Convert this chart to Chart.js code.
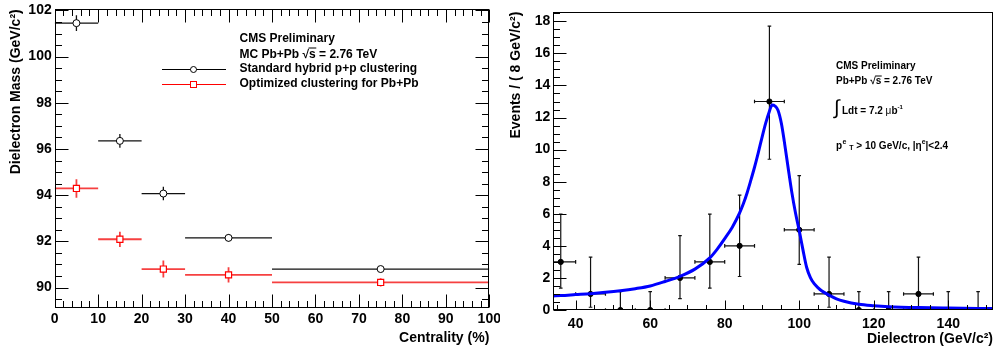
<!DOCTYPE html>
<html><head><meta charset="utf-8">
<script src="https://cdn.jsdelivr.net/npm/chart.js@4.4.1/dist/chart.umd.min.js"></script>
<style>
html,body{margin:0;padding:0;background:#fff;}
#wrap{position:relative;width:994px;height:354px;overflow:hidden;background:#fff;}
#c1{position:absolute;left:0;top:0;}
#c2{position:absolute;left:500px;top:0;}
</style></head><body>
<div id="wrap"><canvas id="c1" width="500" height="354"></canvas><canvas id="c2" width="494" height="354"></canvas></div>
<script>
// ---------- Left panel data ----------
const centBinLow  = [0, 10, 20, 30, 50];
const centBinHigh = [10, 20, 30, 50, 100];
const centCenter  = [5, 15, 25, 40, 75];
const massStd     = [101.45, 96.35, 94.07, 92.15, 90.80];
const massStdErr  = [0.34, 0.30, 0.29, 0.17, 0.10];
const massOpt     = [94.29, 92.09, 90.80, 90.55, 90.22];
const massOptErr  = [0.40, 0.33, 0.37, 0.33, 0.18];
const leftXTicks  = [0, 10, 20, 30, 40, 50, 60, 70, 80, 90, 100];
const leftYTicks  = [90, 92, 94, 96, 98, 100, 102];

// ---------- Right panel data ----------
const binCenter = [36, 44, 52, 60, 68, 76, 84, 92, 100, 108, 116, 124, 132, 140, 148];
const binHalf   = [4, 4, 4, 4, 4, 4, 4, 4, 4, 4, 4, 4, 4, 4, 4];
const events    = [3, 1, 0, 0, 2, 3, 4, 13, 5, 1, 0, 0, 1, 0, 0];
const evErrLow  = [1.63, 0.83, 0, 0, 1.29, 1.63, 1.91, 3.60, 2.16, 0.83, 0, 0, 0.83, 0, 0];
const evErrHigh = [2.98, 2.30, 1.15, 1.15, 2.64, 2.98, 3.16, 4.70, 3.38, 2.30, 1.15, 1.15, 2.30, 1.15, 1.15];
const fitX = [34, 36, 40, 44, 48, 52, 56, 60, 64, 68, 72, 76, 78, 80, 82, 83, 84, 85, 86, 87, 88, 89, 90, 91, 92, 92.7, 93.5, 94.3, 95.2, 96, 97, 98, 99, 100, 101, 102, 103, 104, 105, 106, 108, 110, 112, 116, 120, 124, 132, 140, 152];
const fitY = [0.88, 0.90, 0.96, 1.02, 1.10, 1.20, 1.33, 1.50, 1.78, 2.10, 2.55, 3.25, 3.80, 4.45, 5.15, 5.58, 6.05, 6.62, 7.30, 8.08, 8.90, 9.80, 10.75, 11.65, 12.40, 12.78, 12.72, 12.45, 11.64, 10.50, 8.90, 7.35, 6.05, 4.95, 3.75, 2.65, 2.02, 1.64, 1.40, 1.20, 0.93, 0.70, 0.55, 0.36, 0.27, 0.21, 0.15, 0.12, 0.09];
const rightXTicks = [40, 60, 80, 100, 120, 140];
const rightYTicks = [0, 2, 4, 6, 8, 10, 12, 14, 16, 18];

const FONT = "'Liberation Sans', Arial, Helvetica, sans-serif";
const tickFont = {family: FONT, size: 14, weight: 'bold'};
const titleFont = {family: FONT, size: 14, weight: 'bold'};

function noPad(s) { s.paddingLeft = 0; s.paddingRight = 0; s.paddingTop = 0; s.paddingBottom = 0; }

function minorVals(min, max, step, majors) {
  const out = [];
  for (let v = Math.ceil(min / step - 1e-9) * step; v <= max + 1e-9; v += step) {
    const r = Math.round(v * 1000) / 1000;
    if (!majors.some(m => Math.abs(m - r) < 1e-6)) out.push(r);
  }
  return out;
}

function frameAndTicks(chart, o) {
  const {ctx, chartArea: a, scales: {x, y}} = chart;
  ctx.save();
  ctx.strokeStyle = '#000';
  ctx.lineWidth = 1;
  const L = Math.round(a.left) + 0.5, R = Math.round(a.right) - 0.5;
  const T = Math.round(a.top) + 0.5, B = Math.round(a.bottom) - 0.5;
  ctx.strokeRect(L, T, R - L, B - T);
  ctx.beginPath();
  const xMin = minorVals(x.min, x.max, o.xMinor, o.xTicks);
  const yMin = minorVals(y.min, y.max, o.yMinor, o.yTicks);
  const doX = (vals, len) => vals.forEach(v => {
    const p = Math.round(x.getPixelForValue(v)) + 0.5;
    ctx.moveTo(p, B); ctx.lineTo(p, B - len);
    if (o.topTicks) { ctx.moveTo(p, T); ctx.lineTo(p, T + len); }
  });
  const doY = (vals, len) => vals.forEach(v => {
    const p = Math.round(y.getPixelForValue(v)) + 0.5;
    ctx.moveTo(L, p); ctx.lineTo(L + len, p);
    if (o.rightTicks) { ctx.moveTo(R, p); ctx.lineTo(R - len, p); }
  });
  doX(o.xTicks, o.xMajLen); doX(xMin, o.xMinLen);
  doY(o.yTicks, o.yMajLen); doY(yMin, o.yMinLen);
  ctx.stroke();
  ctx.restore();
}

function drawRuns(ctx, x, y, runs) {
  let cx = x;
  runs.forEach(r => {
    ctx.font = r.font;
    ctx.fillText(r.t, cx, y + (r.dy || 0));
    const w = ctx.measureText(r.t).width;
    if (r.over) {
      ctx.beginPath();
      ctx.lineWidth = 1;
      ctx.moveTo(cx - 0.5, y + r.over);
      ctx.lineTo(cx + w + 0.5, y + r.over);
      ctx.stroke();
    }
    cx += w + (r.gap || 0);
  });
  return cx;
}

function placeArea(chart, target) {
  for (let k = 0; k < 4; k++) {
    const a = chart.chartArea;
    const p = chart.options.layout.padding;
    const dT = target.top - a.top, dR = a.right - target.right, dB = a.bottom - target.bottom, dL = target.left - a.left;
    if (Math.abs(dT) + Math.abs(dR) + Math.abs(dB) + Math.abs(dL) < 0.05) break;
    p.top += dT; p.right += dR; p.bottom += dB; p.left += dL;
    chart.update('none');
  }
}

// ---------- Left chart ----------
const leftPlugin = {
  id: 'leftExtras',
  beforeDatasetsDraw(chart) {
    const {ctx, chartArea: a, scales: {x, y}} = chart;
    ctx.save();
    ctx.beginPath(); ctx.rect(a.left, a.top, a.right - a.left, a.bottom - a.top); ctx.clip();
    const series = [
      {vals: massStd, errs: massStdErr, color: '#111111', w: 1.3},
      {vals: massOpt, errs: massOptErr, color: 'rgba(245,30,30,0.85)', w: 1.8}
    ];
    series.forEach(s => {
      ctx.strokeStyle = s.color; ctx.lineWidth = s.w;
      ctx.beginPath();
      s.vals.forEach((v, i) => {
        const py = y.getPixelForValue(v);
        ctx.moveTo(x.getPixelForValue(centBinLow[i]), py);
        ctx.lineTo(x.getPixelForValue(centBinHigh[i]), py);
        const px = x.getPixelForValue(centCenter[i]);
        ctx.moveTo(px, y.getPixelForValue(v + s.errs[i]));
        ctx.lineTo(px, y.getPixelForValue(v - s.errs[i]));
      });
      ctx.stroke();
    });
    ctx.restore();
  },
  afterDraw(chart) {
    const {ctx} = chart;
    frameAndTicks(chart, {xTicks: leftXTicks, yTicks: leftYTicks, xMinor: 2, yMinor: 0.5,
      xMajLen: 13, xMinLen: 6.5, yMajLen: 13, yMinLen: 6.5, topTicks: true, rightTicks: true});
    ctx.save();
    ctx.fillStyle = '#000'; ctx.strokeStyle = '#000';
    ctx.textBaseline = 'middle'; ctx.textAlign = 'left';
    const f = 'bold 12px ' + FONT;
    drawRuns(ctx, 239.5, 38.5, [{t: 'CMS Preliminary', font: f}]);
    drawRuns(ctx, 239.5, 54.5, [{t: 'MC Pb+Pb ', font: f}, {t: '\u221A', font: f}, {t: 's', font: f, over: -6.5}, {t: ' = 2.76 TeV', font: f}]);
    drawRuns(ctx, 239.5, 68.5, [{t: 'Standard hybrid p+p clustering', font: f}]);
    drawRuns(ctx, 239.5, 83.5, [{t: 'Optimized clustering for Pb+Pb', font: f}]);
    ctx.lineWidth = 1;
    ctx.strokeStyle = '#000';
    ctx.beginPath(); ctx.moveTo(162, 69.5); ctx.lineTo(226, 69.5); ctx.stroke();
    ctx.fillStyle = '#fff';
    ctx.beginPath(); ctx.arc(193.5, 69.5, 3, 0, Math.PI * 2); ctx.fill(); ctx.stroke();
    ctx.strokeStyle = '#ff0000';
    ctx.beginPath(); ctx.moveTo(162, 84.5); ctx.lineTo(226, 84.5); ctx.stroke();
    ctx.fillRect(190.5, 81.5, 6, 6); ctx.strokeRect(190.5, 81.5, 6, 6);
    ctx.restore();
  }
};

const leftChart = new Chart(document.getElementById('c1'), {
  type: 'scatter',
  data: {
    datasets: [
      {label: 'Standard hybrid p+p clustering', data: centCenter.map((c, i) => ({x: c, y: massStd[i]})),
       pointStyle: 'circle', pointRadius: 3.5, borderColor: '#000', backgroundColor: '#fff', borderWidth: 1},
      {label: 'Optimized clustering for Pb+Pb', data: centCenter.map((c, i) => ({x: c, y: massOpt[i]})),
       pointStyle: 'rect', pointRadius: 4.3, borderColor: '#ff0000', backgroundColor: '#fff', borderWidth: 1.2}
    ]
  },
  options: {
    responsive: false, animation: false, events: [],
    layout: {autoPadding: false, padding: {top: 9.3, right: 10.7, left: 0, bottom: 0}},
    plugins: {legend: {display: false}, tooltip: {enabled: false}},
    scales: {
      x: {type: 'linear', min: 0, max: 100,
        afterBuildTicks: s => { s.ticks = leftXTicks.map(v => ({value: v})); },
        afterFit: s => { s.height = 45.7; noPad(s); },
        grid: {display: false, drawTicks: false, tickLength: 0}, border: {display: false},
        ticks: {color: '#000', font: tickFont, padding: 2, maxRotation: 0, autoSkip: false, callback: v => String(v)},
        title: {display: true, text: 'Centrality (%)', align: 'end', color: '#000', font: titleFont, padding: {top: 0, bottom: 7.6}}
      },
      y: {type: 'linear', min: 89.1, max: 102.05,
        afterBuildTicks: s => { s.ticks = leftYTicks.map(v => ({value: v})); },
        afterFit: s => { s.width = 54.7; noPad(s); },
        grid: {display: false, drawTicks: false, tickLength: 0}, border: {display: false},
        ticks: {color: '#000', font: tickFont, padding: 3, autoSkip: false, callback: v => String(v)},
        title: {display: true, text: 'Dielectron Mass (GeV/c\u00B2)', align: 'end', color: '#000', font: titleFont, padding: {top: 7.6, bottom: 0}}
      }
    }
  },
  plugins: [leftPlugin]
});
placeArea(leftChart, {left: 54.7, right: 489.3, top: 9.3, bottom: 308.3});

// ---------- Right chart ----------
const rightPlugin = {
  id: 'rightExtras',
  beforeDatasetsDraw(chart) {
    const {ctx, chartArea: a, scales: {x, y}} = chart;
    ctx.save();
    ctx.beginPath(); ctx.rect(a.left, a.top, a.right - a.left, a.bottom - a.top); ctx.clip();
    ctx.strokeStyle = '#111'; ctx.lineWidth = 1.2;
    ctx.beginPath();
    events.forEach((v, i) => {
      const px = x.getPixelForValue(binCenter[i]);
      const py = y.getPixelForValue(v);
      const xl = x.getPixelForValue(binCenter[i] - binHalf[i]);
      const xr = x.getPixelForValue(binCenter[i] + binHalf[i]);
      const yt = y.getPixelForValue(v + evErrHigh[i]);
      const yb = y.getPixelForValue(v - evErrLow[i]);
      ctx.moveTo(xl, py); ctx.lineTo(xr, py);
      ctx.moveTo(xl, py - 1.8); ctx.lineTo(xl, py + 1.8);
      ctx.moveTo(xr, py - 1.8); ctx.lineTo(xr, py + 1.8);
      ctx.moveTo(px, yt); ctx.lineTo(px, yb);
      ctx.moveTo(px - 1.8, yt); ctx.lineTo(px + 1.8, yt);
      if (evErrLow[i] > 0) { ctx.moveTo(px - 1.8, yb); ctx.lineTo(px + 1.8, yb); }
    });
    ctx.stroke();
    ctx.restore();
  },
  afterDraw(chart) {
    const {ctx} = chart;
    frameAndTicks(chart, {xTicks: rightXTicks, yTicks: rightYTicks, xMinor: 5, yMinor: 0.5,
      xMajLen: 9, xMinLen: 4.5, yMajLen: 13, yMinLen: 6.5, topTicks: false, rightTicks: false});
    ctx.save();
    ctx.fillStyle = '#000'; ctx.strokeStyle = '#000';
    ctx.textBaseline = 'middle'; ctx.textAlign = 'left';
    const f = 'bold 10px ' + FONT;
    const fs = 'bold 7px ' + FONT;
    const x0 = 336;
    drawRuns(ctx, x0, 66, [{t: 'CMS Preliminary', font: f}]);
    drawRuns(ctx, x0, 81.5, [{t: 'Pb+Pb ', font: f}, {t: '\u221A', font: f}, {t: 's', font: f, over: -5.5}, {t: ' = 2.76 TeV', font: f}]);
    drawRuns(ctx, x0 - 2, 108, [{t: '\u222B', font: '20px ' + FONT}]);
    drawRuns(ctx, x0 + 6, 111.5, [{t: 'Ldt = 7.2 ', font: f}, {t: '\u03BC', font: '10px ' + FONT}, {t: 'b', font: f}, {t: '-1', font: 'bold 6px ' + FONT, dy: -4}]);
    drawRuns(ctx, x0, 146, [{t: 'p', font: f, gap: 0.5}, {t: 'e', font: fs, dy: -4}, {t: ' ', font: f}, {t: 'T', font: fs, dy: 2.5},
      {t: ' > 10 GeV/c, |', font: f}, {t: '\u03B7', font: f}, {t: 'e', font: fs, dy: -4}, {t: '|<2.4', font: f}]);
    ctx.restore();
  }
};

const rightChart = new Chart(document.getElementById('c2'), {
  type: 'scatter',
  data: {
    datasets: [
      {type: 'line', label: 'Fit', data: fitX.map((v, i) => ({x: v, y: fitY[i]})),
       borderColor: '#0000ff', borderWidth: 3, pointRadius: 0, fill: false,
       cubicInterpolationMode: 'monotone', order: 0},
      {label: 'Data', data: binCenter.map((c, i) => ({x: c, y: events[i]})),
       pointStyle: 'circle', pointRadius: 2.6, borderColor: '#000', backgroundColor: '#000', borderWidth: 1, order: 1}
    ]
  },
  options: {
    responsive: false, animation: false, events: [],
    layout: {autoPadding: false, padding: {top: 11.7, right: 1, left: 0, bottom: 0}},
    plugins: {legend: {display: false}, tooltip: {enabled: false}},
    scales: {
      x: {type: 'linear', min: 34, max: 152,
        afterBuildTicks: s => { s.ticks = rightXTicks.map(v => ({value: v})); },
        afterFit: s => { s.height = 44; noPad(s); },
        grid: {display: false, drawTicks: false, tickLength: 0}, border: {display: false},
        ticks: {color: '#000', font: tickFont, padding: 6, maxRotation: 0, autoSkip: false, callback: v => String(v)},
        title: {display: true, text: 'Dielectron (GeV/c\u00B2)', align: 'end', color: '#000', font: titleFont, padding: {top: 0, bottom: 6.6}}
      },
      y: {type: 'linear', min: 0, max: 18.6,
        afterBuildTicks: s => { s.ticks = rightYTicks.map(v => ({value: v})); },
        afterFit: s => { s.width = 53.3; noPad(s); },
        grid: {display: false, drawTicks: false, tickLength: 0}, border: {display: false},
        ticks: {color: '#000', font: tickFont, padding: 3, autoSkip: false, callback: v => String(v)},
        title: {display: true, text: 'Events / ( 8 GeV/c\u00B2)', align: 'end', color: '#000', font: titleFont, padding: {top: 7.6, bottom: 0}}
      }
    }
  },
  plugins: [rightPlugin]
});
placeArea(rightChart, {left: 53.3, right: 493, top: 11.7, bottom: 310});
</script>
</body></html>
